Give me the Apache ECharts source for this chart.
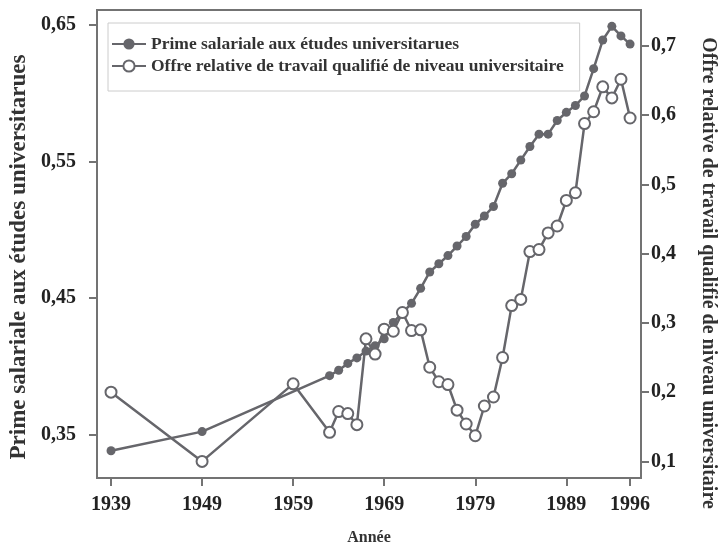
<!DOCTYPE html>
<html>
<head>
<meta charset="utf-8">
<title>Prime salariale et offre relative</title>
<script src="https://cdn.jsdelivr.net/npm/echarts@6/dist/echarts.min.js"></script>
<style>
  html, body { margin: 0; padding: 0; background: #fff; }
  #chart { width: 718px; height: 551px; }
</style>
</head>
<body>
<div id="chart"></div>
<script>
// values
const premiumYears = [1939, 1949, 1963, 1964, 1965, 1966, 1967, 1968, 1969, 1970, 1971, 1972, 1973, 1974, 1975, 1976, 1977, 1978, 1979, 1980, 1981, 1982, 1983, 1984, 1985, 1986, 1987, 1988, 1989, 1990, 1991, 1992, 1993, 1994, 1995, 1996];
const premiumValues = [0.338, 0.352, 0.393, 0.397, 0.402, 0.406, 0.411, 0.415, 0.420, 0.432, 0.439, 0.446, 0.457, 0.469, 0.475, 0.481, 0.488, 0.495, 0.504, 0.510, 0.517, 0.534, 0.541, 0.551, 0.561, 0.570, 0.570, 0.580, 0.586, 0.591, 0.598, 0.618, 0.639, 0.649, 0.642, 0.636];

const supplyYears = [1939, 1949, 1959, 1963, 1964, 1965, 1966, 1967, 1968, 1969, 1970, 1971, 1972, 1973, 1974, 1975, 1976, 1977, 1978, 1979, 1980, 1981, 1982, 1983, 1984, 1985, 1986, 1987, 1988, 1989, 1990, 1991, 1992, 1993, 1994, 1995, 1996];
const supplyValues = [0.200, 0.100, 0.212, 0.142, 0.172, 0.169, 0.153, 0.277, 0.255, 0.291, 0.288, 0.315, 0.289, 0.290, 0.236, 0.215, 0.211, 0.174, 0.154, 0.137, 0.180, 0.193, 0.250, 0.325, 0.334, 0.403, 0.406, 0.430, 0.440, 0.477, 0.488, 0.588, 0.605, 0.641, 0.625, 0.652, 0.596];

const yearTicks = [1939, 1949, 1959, 1969, 1979, 1989, 1996];
const premiumTicks = [0.35, 0.45, 0.55, 0.65];
const supplyTicks = [0.1, 0.2, 0.3, 0.4, 0.5, 0.6, 0.7];

const premiumName = 'Prime salariale aux études universitarues';
const supplyName = 'Offre relative de travail qualifié de niveau universitaire';

const pairs = (xs, ys) => xs.map((x, i) => [x, ys[i]]);

const FONT = '"Liberation Serif", "DejaVu Serif", serif';
const GREY = '#66666b';
const AXIS = '#737373';

const chart = echarts.init(document.getElementById('chart'));

chart.setOption({
  animation: false,
  textStyle: { fontFamily: FONT },
  grid: {
    left: 97,
    right: 77,
    top: 10,
    bottom: 62,
    show: true,
    borderColor: AXIS,
    borderWidth: 2
  },
  // the two y axis titles sit a little off centre in the original, so place them by hand
  graphic: [
    {
      type: 'text',
      x: 19,
      y: 257,
      rotation: Math.PI / 2,
      style: {
        text: premiumName,
        font: 'bold 23px ' + FONT,
        fill: '#333',
        textAlign: 'center',
        textVerticalAlign: 'middle'
      }
    },
    {
      type: 'text',
      x: 708,
      y: 273,
      rotation: -Math.PI / 2,
      style: {
        text: supplyName,
        font: 'bold 20px ' + FONT,
        fill: '#333',
        textAlign: 'center',
        textVerticalAlign: 'middle'
      }
    }
  ],
  legend: {
    orient: 'vertical',
    left: 108,
    top: 23,
    itemWidth: 34,
    itemHeight: 14,
    itemGap: 4,
    padding: [12, 16, 16, 3],
    borderColor: '#cccccc',
    borderWidth: 1,
    textStyle: { fontFamily: FONT, fontSize: 17.5, fontWeight: 'bold', color: '#333' },
    data: [premiumName, supplyName]
  },
  xAxis: {
    type: 'value',
    min: 1937.46,
    max: 1997.2,
    name: 'Année',
    nameLocation: 'middle',
    nameGap: 52,
    nameTextStyle: { fontFamily: FONT, fontSize: 16, fontWeight: 'bold', color: '#333' },
    axisLine: { lineStyle: { color: AXIS, width: 2 } },
    axisTick: { customValues: yearTicks, length: 8, lineStyle: { color: AXIS, width: 2 } },
    axisLabel: {
      customValues: yearTicks,
      margin: 17,
      fontFamily: FONT,
      fontSize: 20,
      fontWeight: 'bold',
      color: '#222',
      formatter: v => String(v)
    },
    splitLine: { show: false }
  },
  yAxis: [
    {
      type: 'value',
      min: 0.318,
      max: 0.661,
      position: 'left',
      axisLine: { show: true, lineStyle: { color: AXIS, width: 2 } },
      axisTick: { show: true, customValues: premiumTicks, length: 8, lineStyle: { color: AXIS, width: 2 } },
      axisLabel: {
        customValues: premiumTicks,
        margin: 21,
        fontFamily: FONT,
        fontSize: 20,
        fontWeight: 'bold',
        color: '#222',
        formatter: v => v.toFixed(2).replace('.', ',')
      },
      splitLine: { show: false }
    },
    {
      type: 'value',
      min: 0.076,
      max: 0.752,
      position: 'right',
      axisLine: { show: true, lineStyle: { color: AXIS, width: 2 } },
      axisTick: { show: true, customValues: supplyTicks, length: 8, lineStyle: { color: AXIS, width: 2 } },
      axisLabel: {
        customValues: supplyTicks,
        margin: 10,
        fontFamily: FONT,
        fontSize: 20,
        fontWeight: 'bold',
        color: '#222',
        formatter: v => v.toFixed(1).replace('.', ',')
      },
      splitLine: { show: false }
    }
  ],
  series: [
    {
      name: premiumName,
      type: 'line',
      yAxisIndex: 0,
      data: pairs(premiumYears, premiumValues),
      symbol: 'circle',
      symbolSize: 9,
      lineStyle: { color: GREY, width: 2.5 },
      itemStyle: { color: GREY }
    },
    {
      name: supplyName,
      type: 'line',
      yAxisIndex: 1,
      data: pairs(supplyYears, supplyValues),
      symbol: 'emptyCircle',
      symbolSize: 11,
      lineStyle: { color: GREY, width: 2.5 },
      itemStyle: { color: GREY, borderWidth: 2.5 }
    }
  ]
});

window.addEventListener('resize', () => chart.resize());
</script>
</body>
</html>
